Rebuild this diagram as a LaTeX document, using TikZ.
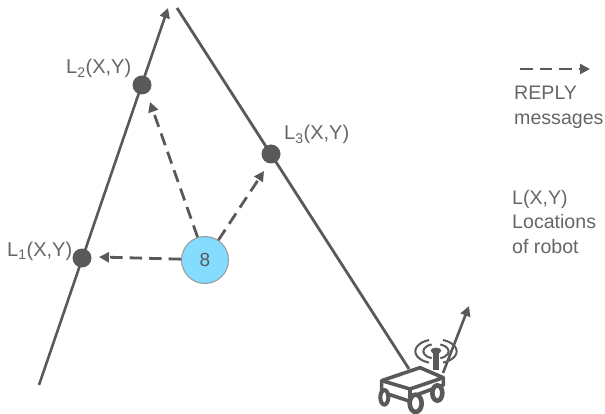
\documentclass[tikz,border=0pt]{standalone}
\usepackage{fontspec}
\setmainfont{Liberation Sans}
\usetikzlibrary{arrows.meta}
\definecolor{ln}{HTML}{595959}
\definecolor{tx}{HTML}{666666}
\definecolor{bluefill}{HTML}{84DCFF}
\tikzset{
 route/.style={draw=ln,line width=2.8pt},
 reply/.style={draw=ln,line width=2.8pt,dash pattern=on 12.5pt off 7pt,-{Triangle[length=10pt,width=10pt]}},
 heading/.style={draw=ln,line width=2.6pt,-{Triangle[length=10pt,width=10pt]}},
 loc/.style={circle,fill=ln,minimum size=19pt,inner sep=0pt},
 lab/.style={text=tx,inner sep=0pt,anchor=base west,font=\fontsize{20}{24}\selectfont},
 legend/.style={text=tx,inner sep=0pt,anchor=north west,align=left,font=\fontsize{19.6}{24.5}\selectfont},
 robot/.style={draw=ln,line width=3.6pt,line join=round},
}
\begin{document}
\begin{tikzpicture}[x=1pt,y=-1pt]
\useasboundingbox (0,0) rectangle (605,414);
\coordinate (a0) at (39,385);
\coordinate (a1) at (168,8);
\coordinate (b0) at (177,8);
\coordinate (b1) at (409,369);
\coordinate (h0) at (443,373);
\coordinate (h1) at (469,306);
\draw[heading] (a0) -- (a1);
\draw[route] (b0) -- (b1);
\draw[heading] (h0) -- (h1);
\node[loc] (L1) at (82,258) {};
\node[loc] (L2) at (142,85) {};
\node[loc] (L3) at (271,154) {};
\node[circle,draw=black!40,line width=1pt,fill=bluefill,minimum size=47pt,inner sep=0pt,text=ln,font=\fontsize{19}{20}\selectfont] (n8) at (205,260) {8};
\coordinate (t1) at (99,257);
\coordinate (t2) at (150,102);
\coordinate (t3) at (264,171);
\draw[reply] (n8.178) -- (t1);
\draw[reply] (n8.108) -- (t2);
\draw[reply] (n8.56) -- (t3);
\node[lab] (l1) at (7,256) {L\textsubscript{1}(X,Y)};
\node[lab] (l2) at (66,74) {L\textsubscript{2}(X,Y)};
\node[lab] (l3) at (284,140) {L\textsubscript{3}(X,Y)};
\coordinate (k0) at (520,69);
\coordinate (k1) at (590,69);
\draw[reply] (k0) -- (k1);
\node[legend] (k2) at (514,86) {REPLY\\messages};
\node[legend] (k3) at (512,190) {L(X,Y)\\Locations\\of robot};
\begin{scope}[shift={(360,290)},x=0.3333pt,y=-0.3333pt]
\draw[robot,fill=white] (65,272) -- (180,233) -- (250,263) -- (150,297) -- cycle;
\draw[robot] (65,272) -- (65,306) -- (150,334);
\draw[robot] (150,297) -- (150,325);
\draw[robot] (150,322) -- (250,285) -- (250,263);
\draw[robot,fill=white,line width=4pt] (73,322) ellipse (12 and 22);
\draw[robot,fill=white,line width=4.6pt] (167,340) ellipse (18 and 26);
\draw[robot,fill=white,line width=4.6pt] (232,309) ellipse (15 and 23);
\draw[draw=ln,line width=5.5pt] (228,184) -- (228,240);
\fill[ln] (228,182) ellipse (16 and 9);
\foreach \s/\e in {110/250,-70/70}{
 \draw[ln,line width=2pt] (228,184) ++(\s:38 and 22) arc[start angle=\s,end angle=\e,x radius=38,y radius=22];
 \draw[ln,line width=2pt] (228,184) ++(\s:62 and 36) arc[start angle=\s,end angle=\e,x radius=62,y radius=36];
}
\end{scope}
\end{tikzpicture}
\end{document}
